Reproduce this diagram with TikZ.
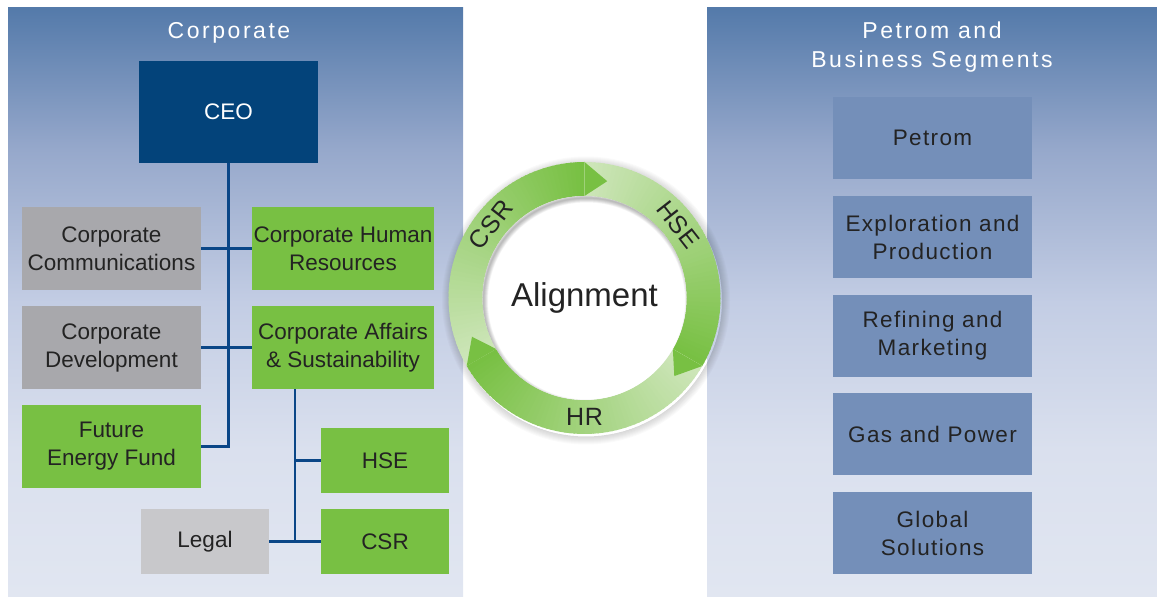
\documentclass[tikz,border=0pt]{standalone}
\usepackage{fontspec}
\setmainfont{Liberation Sans}
\newfontfamily\titlefamily[LetterSpace=11]{Liberation Sans}
\newfontfamily\widefamily[LetterSpace=6]{Liberation Sans}
\newfontfamily\ringfamily[LetterSpace=3]{Liberation Sans}
\usetikzlibrary{calc}

% palette
\definecolor{panelTop}{RGB}{84,122,170}
\definecolor{panelUpper}{RGB}{150,168,203}
\definecolor{panelMid}{RGB}{195,205,228}
\definecolor{panelLow}{RGB}{218,224,238}
\definecolor{panelBot}{RGB}{225,230,241}
\definecolor{ceoBlue}{RGB}{3,67,122}
\definecolor{leaf}{RGB}{120,192,67}
\definecolor{leafLight}{RGB}{206,230,186}
\definecolor{greyBox}{RGB}{168,168,172}
\definecolor{greyLight}{RGB}{200,200,203}
\definecolor{segBlue}{RGB}{116,143,185}
\definecolor{wire}{RGB}{10,70,135}
\definecolor{ink}{RGB}{35,35,35}

% panel background: 25bp..75bp of the shading span the panel height
\pgfdeclareverticalshading{panelfade}{100bp}{%
  color(0bp)=(panelBot); color(25bp)=(panelBot); color(37.5bp)=(panelLow);
  color(50bp)=(panelMid); color(63bp)=(panelUpper); color(75bp)=(panelTop);
  color(100bp)=(panelTop)}

\newcommand\boxfont{\fontsize{22.5}{28}\selectfont}
\newcommand\headfont{\titlefamily\fontsize{23}{29}\selectfont}

\tikzset{
  unit/.style={rectangle, inner sep=0pt, align=center, text=ink, font=\boxfont},
  greenunit/.style={unit, fill=leaf},
  greyunit/.style={unit, fill=greyBox},
  paleunit/.style={unit, fill=greyLight},
  segunit/.style={unit, fill=segBlue, font=\widefamily\boxfont,
                  minimum width=199pt, minimum height=82pt},
  link/.style={draw=wire, line width=2.6pt},
  ringlabel/.style={text=ink, font=\ringfamily\fontsize{25}{25}\selectfont, inner sep=0pt},
}

\begin{document}
\begin{tikzpicture}[x=1pt, y=1pt]
\useasboundingbox (0,0) rectangle (1157,597);

% panels
\shade[shading=panelfade] (8,0) rectangle (463,589);
\shade[shading=panelfade] (707,0) rectangle (1157,589);

% corporate organisation
\node[text=white, font=\headfont] (corptitle) at (229,564) {Corporate};

\node[unit, fill=ceoBlue, text=white, minimum width=179pt, minimum height=102pt]
  (ceo) at (228.5,485) {CEO};

\node[greyunit, minimum width=179pt, minimum height=83pt] (comm) at (111.5,348.5)
  {Corporate\\Communications};
\node[greenunit, minimum width=182pt, minimum height=83pt] (hr) at (343,348.5)
  {Corporate Human\\Resources};
\node[greyunit, minimum width=179pt, minimum height=83pt] (dev) at (111.5,249.5)
  {Corporate\\Development};
\node[greenunit, minimum width=182pt, minimum height=83pt] (affairs) at (343,249.5)
  {Corporate Affairs\\\& Sustainability};
\node[greenunit, minimum width=179pt, minimum height=83pt] (fund) at (111.5,150.5)
  {Future\\Energy Fund};
\node[greenunit, minimum width=128pt, minimum height=65pt] (hse) at (385,136.5) {HSE};
\node[greenunit, minimum width=128pt, minimum height=65pt] (csr) at (385,55.5) {CSR};
\node[paleunit, minimum width=128pt, minimum height=65pt] (legal) at (205,55.5) {Legal};

\coordinate (affairsfoot) at ([xshift=-48pt]affairs.south);

\draw[link] (ceo.south) |- (fund.east);
\draw[link] (comm.east) -- (hr.west);
\draw[link] (dev.east) -- (affairs.west);
\draw[link] (affairsfoot) |- (csr.west);
\draw[link] (affairsfoot) |- (hse.west);
\draw[link] (legal.east) -- (csr.west);

% business segments
\node[text=white, font=\headfont, align=center] (segtitle) at (932,550)
  {Petrom and\\Business Segments};
\node[segunit] (petrom) at (932.5,459) {Petrom};
\node[segunit] (ep) at (932.5,360) {Exploration and\\Production};
\node[segunit] (rm) at (932.5,261) {Refining and\\Marketing};
\node[segunit] (gp) at (932.5,163) {Gas and Power};
\node[segunit] (gs) at (932.5,64) {Global\\Solutions};

% alignment ring
\begin{scope}[shift={(584.5,299)}]
  \def\Ro{136}\def\Ri{102}\def\Rm{119}
  % soft halo under the ring
  \foreach \k in {1,...,8}
    \draw[black, opacity=0.02, line width=\k pt] (1.5pt,-2.5pt) circle[radius={(\Ro+0.5*\k)*1pt}];
  % three arcs, each fading from pale tail to full green head (clockwise)
  \foreach \h/\t in {90/210, -30/90, 210/330} {
    \foreach \i in {0,...,59} {
      \pgfmathsetmacro\aa{\t-2*\i}
      \pgfmathsetmacro\bb{max(\t-2*\i-2.5,\h)}
      \pgfmathsetmacro\pp{\i/59*100}
      \fill[leaf!\pp!leafLight]
        (\aa:\Ro pt) arc[start angle=\aa, end angle=\bb, radius=\Ro pt]
        -- (\bb:\Ri pt) arc[start angle=\bb, end angle=\aa, radius=\Ri pt] -- cycle;
    }
  }
  % arrow heads
  \foreach \h in {90,-30,210}
    \fill[leaf] (\h:\Ro pt) -- (\h-11:\Rm pt) -- (\h:\Ri pt) -- cycle;
  % white hub with a soft shadow cast by the ring
  \fill[white] (0,0) circle[radius=\Ri pt];
  \begin{scope}
    \clip (0,0) circle[radius=\Ri pt];
    \foreach \k in {1,...,9}
      \draw[black, opacity=0.03, line width=\k pt] (2pt,-3pt) circle[radius={(\Ri+1)*1pt}];
  \end{scope}

  \node[ringlabel, rotate=52] (lblcsr) at (142:\Rm pt) {CSR};
  \node[ringlabel, rotate=-52] (lblhse) at (38:\Rm pt) {HSE};
  \node[ringlabel] (lblhr) at (-90:\Rm pt) {HR};
  \node[text=ink, font=\fontsize{33}{33}\selectfont, inner sep=0pt] (align) at (0,0) {Alignment};
\end{scope}
\end{tikzpicture}
\end{document}
